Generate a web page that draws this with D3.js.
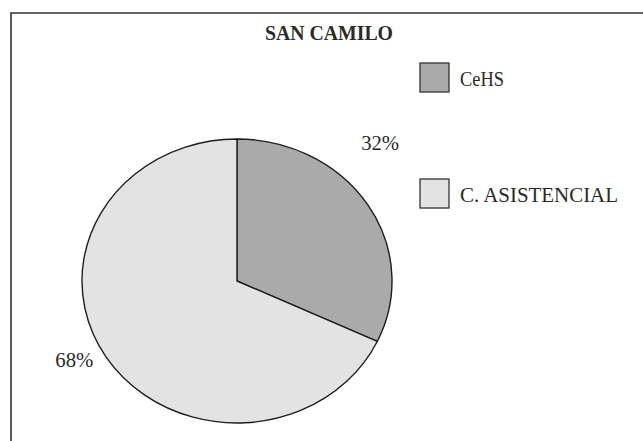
<!DOCTYPE html>
<html>
<head>
<meta charset="utf-8">
<script src="https://cdn.jsdelivr.net/npm/d3@7/dist/d3.min.js"></script>
<style>
  html, body { margin: 0; padding: 0; background: #fff; }
  svg { display: block; }
  text { font-family: "Liberation Serif", "DejaVu Serif", serif; fill: #2a2a2a; }
</style>
</head>
<body>
<svg id="chart" width="643" height="441"></svg>
<script>
// ---- data ----
const title = "SAN CAMILO";
const categories = ["CeHS", "C. ASISTENCIAL"];
const values = [32, 68];
const labels = ["32%", "68%"];
const colors = ["#aaaaaa", "#e3e3e3"];

// ---- layout ----
const W = 643, H = 441;
const cx = 237, cy = 281, rx = 155, ry = 142;
const svg = d3.select("#chart");

// frame
svg.append("path")
  .attr("d", `M11,${H + 2} L11,13 L${W + 2},13`)
  .attr("fill", "none").attr("stroke", "#333").attr("stroke-width", 1.6);

// title
svg.append("text")
  .attr("x", 329).attr("y", 40)
  .attr("text-anchor", "middle")
  .attr("font-size", 20).attr("font-weight", "bold")
  .attr("textLength", 128).attr("lengthAdjust", "spacingAndGlyphs")
  .text(title);

// pie
const pie = d3.pie().sort(null).value(d => d)(values);
const arc = d3.arc().innerRadius(0).outerRadius(rx);
const g = svg.append("g")
  .attr("transform", `translate(${cx},${cy}) scale(1,${ry / rx})`);
g.selectAll("path.slice").data(pie).enter().append("path")
  .attr("class", "slice")
  .attr("d", arc)
  .attr("fill", (d, i) => colors[i])
  .attr("stroke", "#1e1e1e")
  .attr("stroke-width", 1.4)
  .attr("vector-effect", "non-scaling-stroke")
  .attr("stroke-linejoin", "round");

// percentage labels (placed outside along a label angle)
const labelPos = [
  { ang: 46 * Math.PI / 180, dist: 199 },
  { ang: 244 * Math.PI / 180, dist: 181 }
];
svg.selectAll("text.pct").data(pie).enter().append("text")
  .attr("class", "pct")
  .attr("x", (d, i) => cx + labelPos[i].dist * Math.sin(labelPos[i].ang))
  .attr("y", (d, i) => cy - labelPos[i].dist * Math.cos(labelPos[i].ang) + 7)
  .attr("text-anchor", "middle")
  .attr("font-size", 20)
  .attr("textLength", 38).attr("lengthAdjust", "spacingAndGlyphs")
  .text((d, i) => labels[i]);

// legend
const legendY = d3.scalePoint().domain(categories).range([63, 179]);
const lg = svg.selectAll("g.leg").data(categories).enter().append("g")
  .attr("class", "leg")
  .attr("transform", d => `translate(420,${legendY(d)})`);
lg.append("rect")
  .attr("width", 29).attr("height", 29)
  .attr("fill", (d, i) => colors[i])
  .attr("stroke", "#333").attr("stroke-width", 1.3);
lg.append("text")
  .attr("x", 40).attr("y", 23)
  .attr("font-size", 21)
  .attr("textLength", (d, i) => i === 0 ? 44 : 158)
  .attr("lengthAdjust", "spacingAndGlyphs")
  .text(d => d);
</script>
</body>
</html>
